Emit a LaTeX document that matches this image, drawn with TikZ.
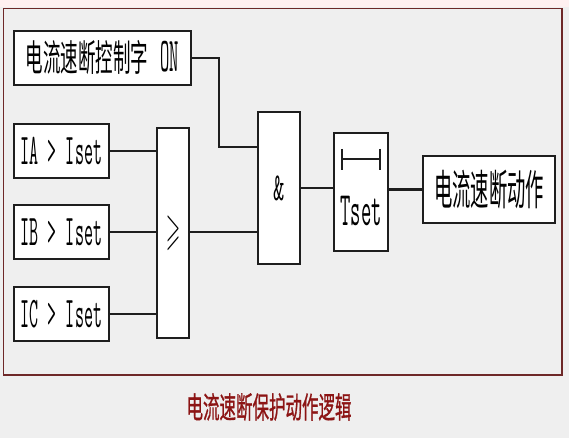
\documentclass[tikz,border=0pt]{standalone}
\usepackage{amssymb}
\usepackage{fontspec}
\usepackage{graphicx}
\newfontfamily\cjk{Noto Sans CJK SC}
\newfontfamily\cjkb{Noto Sans CJK SC}[FakeBold=1.2]
\definecolor{bgc}{RGB}{239,239,239}
\definecolor{framec}{RGB}{110,40,40}
\definecolor{capc}{RGB}{140,20,20}
\definecolor{inkc}{RGB}{30,30,30}
\tikzset{
  box/.style={draw=inkc, line width=1.9pt, fill=white, inner sep=0pt},
  wire/.style={line width=2.4pt, draw=inkc},
}
\newcommand{\lt}[3]{\scalebox{1}[#2]{\ttfamily\fontsize{#1}{#1}\selectfont #3}}
\newcommand{\ct}[3]{\scalebox{1}[#2]{\cjk\fontsize{#1}{#1}\selectfont #3}}
\begin{document}
\begin{tikzpicture}[x=1pt,y=-1pt]
\fill[bgc] (0,0) rectangle (569,438);
\fill[red!6] (0,0) rectangle (569,7);
\useasboundingbox (0,0) rectangle (569,438);
\draw[line width=1.8pt, framec] (3.5,8.5) rectangle (562,375);

\node[box, minimum width=177pt, minimum height=54pt] (on) at (102.5,58)
  {\ct{17.5}{2.1}{电流速断控制字}\hspace{12pt}\lt{18}{2.7}{ON}};
\node[box, minimum width=95pt, minimum height=54pt] (ia) at (61.5,151) {\lt{17.5}{2.5}{IA > Iset}};
\node[box, minimum width=95pt, minimum height=54pt] (ib) at (61.5,232) {\lt{17.5}{2.5}{IB > Iset}};
\node[box, minimum width=95pt, minimum height=54pt] (ic) at (61.5,314) {\lt{17.5}{2.5}{IC > Iset}};
\node[box, minimum width=32pt, minimum height=210pt] (ge) at (173,233)
  {\scalebox{1}[2.5]{\fontsize{18}{18}\selectfont$\geqslant$}};
\node[box, minimum width=42pt, minimum height=152pt] (and) at (279,188)
  {\lt{22}{1.8}{\&}};
\node[box, minimum width=54pt, minimum height=118pt] (tset) at (361,192) {};
\node (tsettxt) at (361,211) {\lt{20}{2.4}{Tset}};
\node[box, minimum width=132pt, minimum height=67pt] (out) at (489,189.5)
  {\ct{18.3}{2.3}{电流速断动作}};

% timer symbol
\draw[line width=1.8pt, inkc] (342,159) -- (380,159);
\draw[line width=1.8pt, inkc] (342,149) -- (342,170);
\draw[line width=1.8pt, inkc] (380,149) -- (380,170);

% connectors
\coordinate (b1) at (219,147);
\draw[wire] (on.east) -| (b1) -- (b1 -| and.west);
\draw[wire] (ia.east) -- (ia.east -| ge.west);
\draw[wire] (ib.east) -- (ib.east -| ge.west);
\draw[wire] (ic.east) -- (ic.east -| ge.west);
\draw[wire] (ge.east |- ib.east) -- (ib.east -| and.west);
\draw[wire] (and.east) -- (and.east -| tset.west);
\draw[wire] (tset.east |- out.west) -- (out.west);

\node[text=capc] (cap) at (269,407) {\scalebox{1}[1.8]{\cjkb\fontsize{16.5}{16.5}\selectfont 电流速断保护动作逻辑}};
\end{tikzpicture}
\end{document}
